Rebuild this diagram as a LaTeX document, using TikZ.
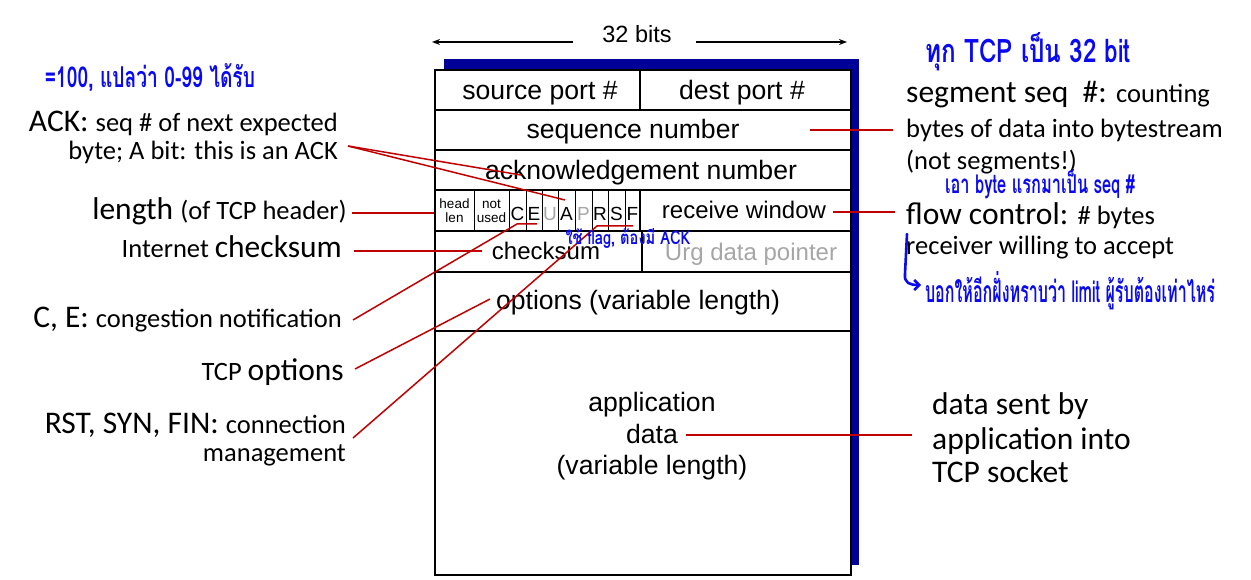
\documentclass[tikz,border=0pt]{standalone}
\usepackage{fontspec}
\usepackage{graphicx}
\setmainfont{Carlito}
\newfontfamily\arialf{Liberation Sans}
\newfontfamily\thaif[Script=Thai]{Loma}
\usetikzlibrary{arrows.meta}
\definecolor{shadowblue}{RGB}{0,0,153}
\definecolor{linkred}{RGB}{192,0,0}
\definecolor{penblue}{RGB}{10,10,240}
\definecolor{dimgray}{RGB}{166,166,166}
\newcommand\fsz[1]{\fontsize{#1}{#1}\selectfont}
\newcommand\bigT{\fsz{31.5}}
\newcommand\smallT{\fsz{26.5}}
\begin{document}
\begin{tikzpicture}[x=1pt,y=-1pt,
  field/.style={font=\arialf\fsz{26.6}, inner sep=0pt, anchor=base},
  fieldsm/.style={font=\arialf\fsz{24}, inner sep=0pt, anchor=base},
  flag/.style={font=\arialf\fsz{19}, inner sep=0pt, anchor=base},
  tiny/.style={font=\arialf\fsz{13.5}, inner sep=0pt, anchor=base},
  lab/.style={inner sep=0pt, anchor=base east, align=right},
  rlab/.style={inner sep=0pt, anchor=base west, align=left},
  link/.style={draw=linkred, line width=1.5pt},
  pen/.style={text=penblue, inner sep=0pt, anchor=center},
  rowline/.style={line width=1.6pt},
  cellline/.style={line width=0.9pt}]
\useasboundingbox (0,0) rectangle (1251,580);

% shadow and frame
\fill[shadowblue] (444,59) rectangle (859,565);
\draw[line width=2.6pt, fill=white] (435,70) rectangle (851,575);
\foreach \yy in {110,150,190,231,272,331} \draw[rowline] (435,\yy) -- (851,\yy);
\draw[rowline] (640,70) -- (640,110);
\draw[rowline] (640,190) -- (640,231);
\draw[rowline] (642,231) -- (642,272);
\foreach \xx in {474,509,526,542,558,575,592,608,625} \draw[cellline] (\xx,190) -- (\xx,231);

% 32 bits
\node[field, font=\arialf\fsz{23.5}] (bits) at (637,43) {32 bits};
\coordinate (bitsLa) at (573,42); \coordinate (bitsLb) at (432,42);
\coordinate (bitsRa) at (696,42); \coordinate (bitsRb) at (847,42);
\draw[line width=1.5pt, -{Stealth[length=8pt,width=6pt]}] (bitsLa) -- (bitsLb);
\draw[line width=1.5pt, -{Stealth[length=8pt,width=6pt]}] (bitsRa) -- (bitsRb);

% fields
\node[field] (sport) at (540,100) {source port \#};
\node[field] (dport) at (742,100) {dest port \#};
\node[field] (seqn) at (633,139) {sequence number};
\node[field] (ackn) at (641,180) {acknowledgement number};
\node[tiny] (hd1) at (454.5,209) {head};
\node[tiny] (hd2) at (454.5,223) {len};
\node[tiny] (nu1) at (491.5,209) {not};
\node[tiny] (nu2) at (491.5,223) {used};
\node[flag] (fC) at (517.5,221) {C};
\node[flag] (fE) at (534,221) {E};
\node[flag, text=dimgray] (fU) at (550,221) {U};
\node[flag] (fA) at (566.5,221) {A};
\node[flag, text=dimgray] (fP) at (583.5,221) {P};
\node[flag] (fR) at (600,221) {R};
\node[flag] (fS) at (616.5,221) {S};
\node[flag] (fF) at (632.5,221) {F};
\node[fieldsm] (rwin) at (744,219) {receive window};
\node[fieldsm] (cks) at (546,260) {checksum};
\node[fieldsm, text=dimgray] (urg) at (751,261) {Urg data pointer};
\node[field] (opts) at (638,309) {options (variable length)};
\node[field] (ap1) at (652,411) {application};
\node[field] (ap2) at (652,443) {data};
\node[field] (ap3) at (652,474) {(variable length)};

% left labels
\node[lab] (ackL1) at (338,132) {\bigT ACK: \smallT seq \# of next expected};
\node[lab] (ackL2) at (338,160) {\smallT byte; A bit: this is an ACK};
\node[lab] (lenL) at (347,220) {\bigT length \smallT(of TCP header)};
\node[lab] (ckL) at (342,258) {\smallT Internet \bigT checksum};
\node[lab] (ceL) at (342,327) {\bigT C, E: \smallT congestion notification};
\node[lab] (optL) at (344,380) {\smallT TCP \bigT options};
\node[lab] (rstL1) at (346,433) {\bigT RST, SYN, FIN: \smallT connection};
\node[lab] (rstL2) at (346,461) {\smallT management};

% right labels
\node[rlab] (segL1) at (906,103) {\bigT segment seq \ \#: \smallT counting};
\node[rlab] (segL2) at (906,138) {\smallT bytes of data into bytestream};
\node[rlab] (segL3) at (906,170) {\smallT (not segments!)};
\node[rlab] (flowL1) at (906,225) {\bigT flow control: \smallT\# bytes};
\node[rlab] (flowL2) at (906,255) {\smallT receiver willing to accept};
\node[rlab] (datL1) at (932,414) {\bigT data sent by};
\node[rlab] (datL2) at (932,449) {\bigT application into};
\node[rlab] (datL3) at (932,482) {\bigT TCP socket};

% connectors
\coordinate (ackS) at (348,146);
\coordinate (ackE1) at (521,175);
\coordinate (ackE2) at (565,200);
\draw[link] (ackS) -- (ackE1);
\draw[link] (ackS) -- (ackE2);
\coordinate (lenS) at (352,213); \coordinate (lenE) at (434,213);
\draw[link] (lenS) -- (lenE);
\coordinate (ckS) at (354,251); \coordinate (ckE) at (482,251);
\draw[link] (ckS) -- (ckE);
\coordinate (ceS) at (353,320); \coordinate (ceM) at (517,224); \coordinate (ceE) at (537,224);
\draw[link] (ceS) -- (ceM) -- (ceE);
\coordinate (optS) at (355,369); \coordinate (optE) at (490,299);
\draw[link] (optS) -- (optE);
\coordinate (rstS) at (353,438); \coordinate (rstM) at (597,226); \coordinate (rstE) at (633,226);
\draw[link] (rstS) -- (rstM) -- (rstE);
\coordinate (seqS) at (810,130); \coordinate (seqE) at (893,130);
\draw[link] (seqS) -- (seqE);
\coordinate (rwS) at (833,212); \coordinate (rwE) at (895,212);
\draw[link] (rwS) -- (rwE);
\coordinate (apS) at (686,435); \coordinate (apE) at (912,435);
\draw[link] (apS) -- (apE);

% handwritten notes
\node[pen] (note1) at (150,78) {\resizebox{210pt}{24pt}{\thaif\bfseries =100, แปลว่า 0-99 ได้รับ}};
\node[pen] (note2) at (1028,52) {\resizebox{205pt}{30pt}{\thaif\bfseries ทุก TCP เป็น 32 bit}};
\node[pen] (note3) at (1040,184) {\resizebox{190pt}{24pt}{\thaif\bfseries เอา byte แรกมาเป็น seq \#}};
\node[pen] (note4) at (1070,291) {\resizebox{290pt}{31pt}{\thaif\bfseries บอกให้อีกฝั่งทราบว่า limit ผู้รับต้องเท่าไหร่}};
\node[pen] (note5) at (628,238) {\resizebox{125pt}{16pt}{\thaif\bfseries ใช้ flag, ต้องมี ACK}};
\coordinate (hookS) at (907,234);
\coordinate (hookE) at (921,285);
\draw[penblue, line width=2.6pt, line cap=round, -{Straight Barb[length=5pt]}] (hookS) -- (905,274) .. controls (904,283) and (910,285) .. (hookE);
\end{tikzpicture}
\end{document}
